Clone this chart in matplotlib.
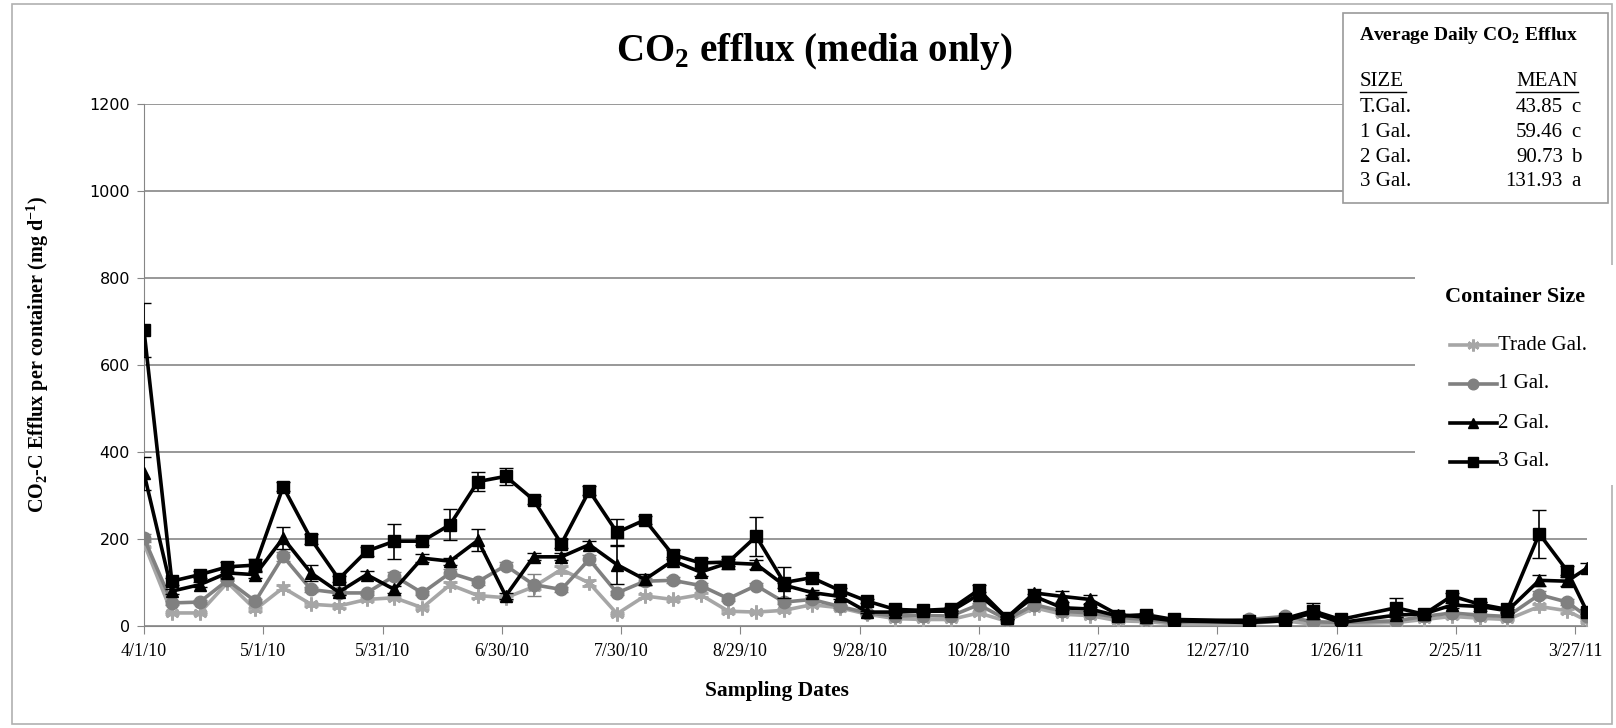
import pandas as pd
import matplotlib
matplotlib.use("Agg")
import matplotlib.pyplot as plt
from matplotlib.patches import Rectangle
from matplotlib.lines import Line2D

plt.rcParams['font.family'] = ['Liberation Serif', 'DejaVu Sans']
plt.rcParams['mathtext.fontset'] = 'custom'
plt.rcParams['mathtext.rm'] = 'Liberation Serif'
plt.rcParams['mathtext.bf'] = 'Liberation Serif:bold'

# sampling dates
dates = ["2010-04-01", "2010-04-08", "2010-04-15", "2010-04-22", "2010-04-29",
         "2010-05-06", "2010-05-13", "2010-05-20", "2010-05-27", "2010-06-03",
         "2010-06-10", "2010-06-17", "2010-06-24", "2010-07-01", "2010-07-08",
         "2010-07-15", "2010-07-22", "2010-07-29", "2010-08-05", "2010-08-12",
         "2010-08-19", "2010-08-26", "2010-09-02", "2010-09-09", "2010-09-16",
         "2010-09-23", "2010-09-30", "2010-10-07", "2010-10-14", "2010-10-21",
         "2010-10-28", "2010-11-04", "2010-11-11", "2010-11-18", "2010-11-25",
         "2010-12-02", "2010-12-09", "2010-12-16", "2011-01-04", "2011-01-13",
         "2011-01-20", "2011-01-27", "2011-02-10", "2011-02-17", "2011-02-24",
         "2011-03-03", "2011-03-10", "2011-03-18", "2011-03-25", "2011-03-30"]

trade = [190, 30, 30, 100, 38, 88, 50, 46, 61, 65,
         42, 95, 70, 65, 90, 130, 99, 28, 69, 61,
         72, 34, 32, 36, 49, 42, 27, 17, 15, 15,
         30, 11, 42, 27, 24, 12, 10, 5, 6, 12,
         4, 5, 8, 15, 22, 18, 15, 45, 35, 12]
gal1 = [202, 53, 55, 105, 57, 160, 84, 76, 76, 115,
        76, 122, 102, 139, 95, 84, 153, 76, 103, 105,
        93, 63, 93, 55, 61, 45, 30, 23, 24, 23,
        49, 15, 49, 34, 30, 20, 15, 8, 15, 22,
        10, 8, 12, 22, 30, 25, 22, 72, 55, 22]
gal2 = [351, 80, 95, 122, 118, 202, 122, 78, 118, 84,
        156, 149, 197, 69, 159, 159, 187, 141, 107, 150,
        124, 145, 142, 94, 77, 68, 32, 32, 34, 34,
        72, 19, 76, 68, 61, 26, 20, 12, 8, 12,
        30, 8, 25, 28, 48, 45, 35, 105, 103, 133]
gal3 = [680, 103, 118, 136, 140, 320, 200, 108, 172, 195,
        195, 233, 332, 344, 290, 189, 311, 215, 244, 164,
        145, 147, 206, 100, 111, 82, 57, 38, 36, 39,
        83, 19, 68, 42, 39, 23, 26, 15, 12, 17,
        35, 15, 42, 27, 69, 50, 38, 212, 127, 33]

# standard errors
err_trade = [8, 3, 3, 6, 3, 6, 4, 4, 4, 4,
             3, 6, 5, 5, 6, 8, 6, 3, 5, 4,
             5, 3, 3, 3, 4, 3, 2, 2, 2, 2,
             3, 2, 3, 2, 2, 2, 2, 1, 1, 2,
             1, 1, 1, 2, 3, 2, 2, 5, 4, 2]
err1 = [10, 4, 4, 8, 4, 10, 6, 5, 5, 8,
        5, 8, 7, 8, 25, 6, 10, 5, 8, 7,
        6, 5, 6, 4, 5, 4, 3, 2, 2, 2,
        4, 2, 4, 3, 3, 2, 2, 1, 2, 2,
        1, 1, 2, 2, 3, 3, 2, 8, 6, 2]
err2 = [38, 6, 6, 12, 8, 25, 18, 6, 8, 8,
        10, 8, 25, 6, 8, 8, 8, 45, 12, 8,
        8, 8, 10, 6, 6, 5, 3, 3, 3, 3,
        6, 2, 10, 12, 10, 3, 3, 2, 1, 2,
        5, 1, 4, 4, 6, 10, 5, 12, 10, 12]
err3 = [62, 8, 8, 12, 15, 10, 12, 6, 10, 40,
        8, 35, 22, 20, 10, 10, 10, 32, 10, 10,
        12, 15, 45, 36, 8, 6, 5, 4, 4, 4,
        12, 3, 6, 5, 5, 3, 3, 2, 2, 3,
        18, 2, 22, 4, 8, 6, 5, 55, 10, 6]

tick_dates = ["2010-04-01", "2010-05-01", "2010-05-31", "2010-06-30", "2010-07-30",
              "2010-08-29", "2010-09-28", "2010-10-28", "2010-11-27", "2010-12-27",
              "2011-01-26", "2011-02-25", "2011-03-27"]
tick_labels = ["4/1/10", "5/1/10", "5/31/10", "6/30/10", "7/30/10", "8/29/10",
               "9/28/10", "10/28/10", "11/27/10", "12/27/10", "1/26/11",
               "2/25/11", "3/27/11"]

series = ["Trade Gal.", "1 Gal.", "2 Gal.", "3 Gal."]
means = ["43.85", "59.46", "90.73", "131.93"]
groups = ["c", "c", "b", "a"]
size_names = ["T.Gal.", "1 Gal.", "2 Gal.", "3 Gal."]

x = pd.to_datetime(dates)
W, H = 1616, 728
fig = plt.figure(figsize=(W / 100, H / 100), dpi=100)
ax = fig.add_axes([144 / W, 1 - 626 / H, (1587 - 144) / W, (626 - 104) / H])

styles = [
    dict(color="#a6a6a6", marker=(6, 2, 0), ms=10, mew=2.0),
    dict(color="#808080", marker="o", ms=9, mew=1),
    dict(color="black", marker="^", ms=9, mew=1),
    dict(color="black", marker="s", ms=8, mew=1),
]
values = [trade, gal1, gal2, gal3]
errs = [err_trade, err1, err2, err3]
for i in range(4):
    st = styles[i]
    ax.errorbar(x, values[i], yerr=errs[i], color=st["color"], lw=2.6,
                marker=st["marker"], ms=st["ms"], mew=st["mew"],
                mfc=st["color"], mec=st["color"], ecolor=st["color"],
                elinewidth=1.2, capsize=5, capthick=1.2, zorder=3 + i)

ax.set_ylim(0, 1200)
ax.set_yticks(range(0, 1201, 200))
ax.set_xlim(x[0], x[-1])
ax.set_xticks(pd.to_datetime(tick_dates))
ax.set_xticklabels(tick_labels, fontsize=13)
for t in ax.get_yticklabels():
    t.set_fontfamily("DejaVu Sans")
    t.set_fontsize(11.5)
ax.yaxis.grid(True, color="#868686", lw=1.2)
ax.set_axisbelow(True)
for s in ["top", "right"]:
    ax.spines[s].set_visible(False)
for s in ["left", "bottom"]:
    ax.spines[s].set_color("#868686")
ax.tick_params(axis="x", length=6, color="#868686", pad=6)
ax.tick_params(axis="y", length=5, color="#868686", pad=5)

# legend on a white patch over the grid
fig.patches.append(Rectangle((1415 / W, 1 - 485 / H), 200 / W, 220 / H,
                             transform=fig.transFigure, fc="white", ec="none", zorder=1))
fig.text(1445 / W, 1 - 297 / H, "Container Size", fontsize=16, fontweight="bold",
         va="center", zorder=3)
for i in range(4):
    st = styles[i]
    yy = 1 - (345 + 39 * i) / H
    fig.add_artist(Line2D([1450 / W, 1473 / W, 1497 / W], [yy] * 3, color=st["color"],
                          lw=2.6, marker=st["marker"], ms=st["ms"] * 0.85, mew=st["mew"],
                          mfc=st["color"], mec=st["color"], markevery=[1], zorder=3))
    fig.text(1498 / W, yy, series[i], fontsize=15, va="center", zorder=3)

fig.text(814 / W, 1 - 52 / H, r"CO$_\mathbf{2}$ efflux (media only)", ha="center",
         va="center", fontsize=28, fontweight="bold")
fig.text(38 / W, 1 - 355 / H, r"CO$_\mathbf{2}$-C Efflux per container (mg d$^\mathbf{-1}$)",
         rotation=90, ha="center", va="center", fontsize=14.5, fontweight="bold")
fig.text(777 / W, 1 - 691 / H, "Sampling Dates", ha="center", va="center",
         fontsize=15.5, fontweight="bold")

# table of means
fig.patches.append(Rectangle((1343 / W, 1 - 203 / H), 265 / W, 190 / H,
                             transform=fig.transFigure, fc="white", ec="#9a9a9a",
                             lw=1.2, zorder=1))
fig.text(1359 / W, 1 - 35 / H, r"Average Daily CO$_\mathbf{2}$ Efflux", fontsize=14,
         fontweight="bold", va="center", zorder=3)
fig.text(1360 / W, 1 - 82 / H, "SIZE", fontsize=15, va="center", zorder=3)
fig.text(1578 / W, 1 - 82 / H, "MEAN", fontsize=15, va="center", ha="right", zorder=3)
fig.add_artist(Line2D([1360 / W, 1406 / W], [1 - 92 / H] * 2, color="black", lw=1))
fig.add_artist(Line2D([1516 / W, 1578 / W], [1 - 92 / H] * 2, color="black", lw=1))
for i in range(4):
    yy = 1 - (108 + 24.5 * i) / H
    fig.text(1360 / W, yy, size_names[i], fontsize=15, va="center", zorder=3)
    fig.text(1563 / W, yy, means[i], fontsize=15, va="center", ha="right", zorder=3)
    fig.text(1571 / W, yy, groups[i], fontsize=15, va="center", zorder=3)

# chart border
fig.patches.append(Rectangle((12 / W, 4 / H), 1600 / W, 720 / H,
                             transform=fig.transFigure, fc="none", ec="#b0b0b0",
                             lw=1.2, zorder=0))

fig.savefig("out.png", dpi=100)
